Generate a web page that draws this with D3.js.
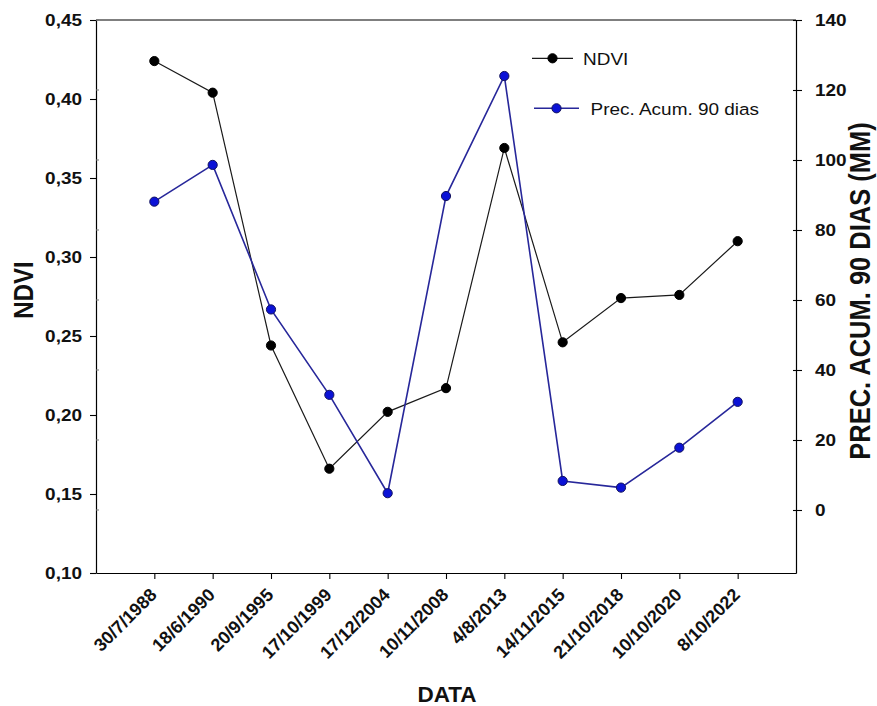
<!DOCTYPE html>
<html>
<head>
<meta charset="utf-8">
<script src="https://cdn.jsdelivr.net/npm/d3@7/dist/d3.min.js"></script>
<style>
  html, body { margin: 0; padding: 0; background: #fff; }
  svg { display: block; font-family: Arial, "Liberation Sans", sans-serif; }
</style>
</head>
<body>
<svg id="chart" width="877" height="706"></svg>
<script>
// Sampling dates (x categories)
const dates = ["30/7/1988", "18/6/1990", "20/9/1995", "17/10/1999", "17/12/2004",
               "10/11/2008", "4/8/2013", "14/11/2015", "21/10/2018", "10/10/2020", "8/10/2022"];
// NDVI per date (left axis)
const ndvi = [0.424, 0.404, 0.244, 0.166, 0.202, 0.217, 0.369, 0.246, 0.274, 0.276, 0.310];
// Accumulated rainfall over the previous 90 days, mm (right axis)
const prec = [88.1, 98.6, 57.3, 32.9, 4.8, 89.7, 124.0, 8.3, 6.4, 17.8, 30.9];
// Axis ticks
const ndviTicks = [0.10, 0.15, 0.20, 0.25, 0.30, 0.35, 0.40, 0.45];
const precTicks = [0, 20, 40, 60, 80, 100, 120, 140];

const W = 877, H = 706;
const m = { left: 96, right: 81, top: 20, bottom: 133 };
const SX = 1.15; // horizontal text stretch

const svg = d3.select("#chart");

const x = d3.scaleLinear().domain([0, dates.length + 1]).range([m.left, W - m.right]);
const yL = d3.scaleLinear().domain([0.10, 0.45]).range([H - m.bottom, m.top]);
const yR = d3.scaleLinear().domain([-18, 140]).range([H - m.bottom, m.top]);

const fmt = d3.formatLocale({ decimal: ",", thousands: ".", grouping: [3], currency: ["", ""] }).format(".2f");

// Frame: top edge
svg.append("line")
  .attr("x1", m.left).attr("x2", W - m.right)
  .attr("y1", m.top).attr("y2", m.top)
  .attr("stroke", "#000").attr("stroke-width", 1.2);

// Left axis (NDVI)
const gL = svg.append("g").attr("transform", `translate(${m.left},0)`)
  .call(d3.axisLeft(yL).tickValues(ndviTicks).tickFormat(fmt).tickSizeInner(6).tickSizeOuter(0));
gL.selectAll("text")
  .attr("x", -14 / SX).attr("dy", "0.36em")
  .attr("transform", `scale(${SX},1)`)
  .style("font-size", "16.5px").style("font-weight", "bold").attr("fill", "#111");

// short inner marks on the left axis
svg.append("g").selectAll("line").data(precTicks).join("line")
  .attr("x1", m.left).attr("x2", m.left + 3)
  .attr("y1", d => yR(d)).attr("y2", d => yR(d))
  .attr("stroke", "#777").attr("stroke-width", 1);

// Right axis (rainfall)
const gR = svg.append("g").attr("transform", `translate(${W - m.right},0)`)
  .call(d3.axisRight(yR).tickValues(precTicks).tickSizeInner(6).tickSizeOuter(0));
gR.selectAll(".tick line").attr("x1", -3);
gR.selectAll("text")
  .attr("x", 19 / SX).attr("dy", "0.36em")
  .attr("transform", `scale(${SX},1)`)
  .style("font-size", "16.5px").style("font-weight", "bold").attr("fill", "#111");

// Bottom axis (dates), labels at 45 degrees
const gB = svg.append("g").attr("transform", `translate(0,${H - m.bottom})`)
  .call(d3.axisBottom(x).tickValues(d3.range(1, dates.length + 1))
    .tickFormat(i => dates[i - 1]).tickSizeInner(6).tickSizeOuter(0));
gB.selectAll("text")
  .attr("x", 0).attr("y", 0).attr("dy", 0)
  .attr("text-anchor", "end")
  .attr("transform", "translate(3,23) rotate(-45)")
  .style("font-size", "18px").style("font-weight", "bold").attr("fill", "#111");

[gL, gR, gB].forEach(g => {
  g.select(".domain").attr("stroke", "#000").attr("stroke-width", 1.2);
  g.selectAll(".tick line").attr("stroke", "#000").attr("stroke-width", 1.1);
});

// Axis titles
function label(txt, px, py, rot, size, sx) {
  svg.append("text").text(txt)
    .attr("text-anchor", "middle")
    .attr("transform", `translate(${px},${py}) scale(${sx},1) rotate(${rot})`)
    .style("font-size", size + "px").style("font-weight", "bold").attr("fill", "#111");
}
label("NDVI", 33, 290, -90, 24, SX);
label("PREC. ACUM. 90 DIAS (MM)", 870, 291, -90, 25.5, SX);
label("DATA", 447, 702, 0, 22.5, 1);

// Series
const lineNdvi = d3.line().x((d, i) => x(i + 1)).y(d => yL(d));
const linePrec = d3.line().x((d, i) => x(i + 1)).y(d => yR(d));

const BLUE_LINE = "#27279a", BLUE_FILL = "#0b12d6", BLUE_EDGE = "#12125e";

svg.append("path").datum(ndvi).attr("d", lineNdvi)
  .attr("fill", "none").attr("stroke", "#1a1a1a").attr("stroke-width", 1.2);
svg.append("path").datum(prec).attr("d", linePrec)
  .attr("fill", "none").attr("stroke", BLUE_LINE).attr("stroke-width", 1.6);

svg.append("g").selectAll("circle").data(ndvi).join("circle")
  .attr("cx", (d, i) => x(i + 1)).attr("cy", d => yL(d)).attr("r", 4.6)
  .attr("fill", "#000").attr("stroke", "#000");
svg.append("g").selectAll("circle").data(prec).join("circle")
  .attr("cx", (d, i) => x(i + 1)).attr("cy", d => yR(d)).attr("r", 4.6)
  .attr("fill", BLUE_FILL).attr("stroke", BLUE_EDGE).attr("stroke-width", 1);

// Legend
const legend = [
  { name: "NDVI", x1: 532, x2: 573, cy: 58.3, tx: 583, ty: 64.5, stroke: "#1a1a1a", fill: "#000", edge: "#000", w: 1.2 },
  { name: "Prec. Acum. 90 dias", x1: 534, x2: 579, cy: 108.3, tx: 590.5, ty: 114.5, stroke: BLUE_LINE, fill: BLUE_FILL, edge: BLUE_EDGE, w: 1.6 }
];
const lg = svg.append("g").selectAll("g").data(legend).join("g");
lg.append("line")
  .attr("x1", d => d.x1).attr("x2", d => d.x2).attr("y1", d => d.cy).attr("y2", d => d.cy)
  .attr("stroke", d => d.stroke).attr("stroke-width", d => d.w);
lg.append("circle")
  .attr("cx", d => (d.x1 + d.x2) / 2).attr("cy", d => d.cy).attr("r", 4.6)
  .attr("fill", d => d.fill).attr("stroke", d => d.edge);
lg.append("text").text(d => d.name)
  .attr("transform", d => `translate(${d.tx},${d.ty}) scale(${SX},1)`)
  .style("font-size", "16.5px").attr("fill", "#111");
</script>
</body>
</html>
